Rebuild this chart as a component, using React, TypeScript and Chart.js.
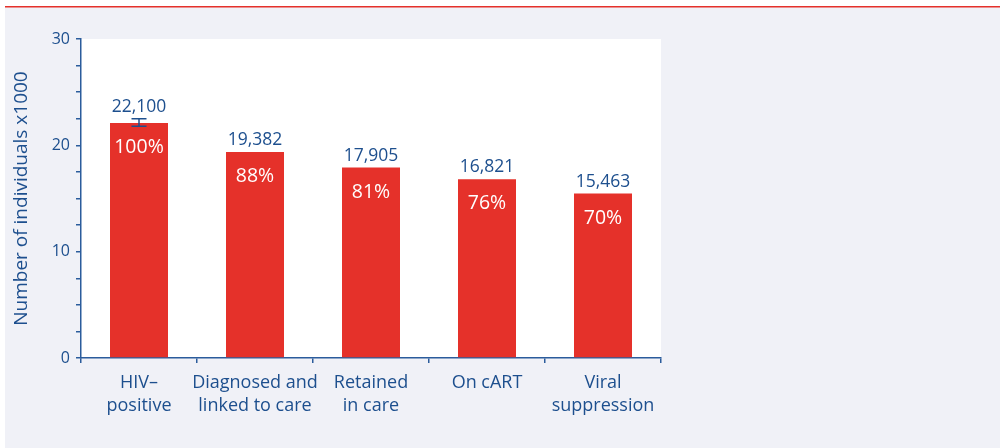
import React, { useEffect, useRef } from "react";
import { Chart, registerables } from "chart.js";

Chart.register(...registerables);

const categories: string[][] = [
  ["HIV–", "positive"],
  ["Diagnosed and", "linked to care"],
  ["Retained", "in care"],
  ["On cART"],
  ["Viral", "suppression"],
];
const values = [22.1, 19.382, 17.905, 16.821, 15.463];
const valueLabels = ["22,100", "19,382", "17,905", "16,821", "15,463"];
const percentLabels = ["100%", "88%", "81%", "76%", "70%"];
const errorLow: (number | null)[] = [21.8, null, null, null, null];
const errorHigh: (number | null)[] = [22.5, null, null, null, null];
const yLabelTicks = [0, 10, 20, 30];

const BLUE = "#1d4f8e";
const AXIS = "#2b5c9c";
const RED = "#e5312a";
const BG = "#f0f1f7";
const FONT = "'Open Sans', sans-serif";

const decorPlugin = {
  id: "decor",
  beforeDraw(chart: any) {
    const { ctx, width, height, chartArea } = chart;
    ctx.save();
    ctx.fillStyle = "#ffffff";
    ctx.fillRect(0, 0, width, height);
    ctx.fillStyle = BG;
    ctx.fillRect(5, 7, width - 5, height - 7);
    ctx.fillStyle = RED;
    ctx.fillRect(5, 6, width - 5, 1.5);
    ctx.fillStyle = "#ffffff";
    ctx.fillRect(chartArea.left, chartArea.top, chartArea.right - chartArea.left, chartArea.bottom - chartArea.top);
    ctx.restore();
  },
  afterDatasetsDraw(chart: any) {
    const { ctx } = chart;
    const meta = chart.getDatasetMeta(0);
    const y = chart.scales.y;
    ctx.save();
    meta.data.forEach((bar: any, i: number) => {
      const x = bar.x;
      let labelTop = bar.y;
      const lo = errorLow[i];
      const hi = errorHigh[i];
      if (lo != null && hi != null) {
        const yl = y.getPixelForValue(lo);
        const yh = y.getPixelForValue(hi);
        ctx.strokeStyle = BLUE;
        ctx.lineWidth = 1.5;
        ctx.beginPath();
        ctx.moveTo(x, yl);
        ctx.lineTo(x, yh);
        ctx.moveTo(x - 7.5, yl);
        ctx.lineTo(x + 7.5, yl);
        ctx.moveTo(x - 7.5, yh);
        ctx.lineTo(x + 7.5, yh);
        ctx.stroke();
        labelTop = Math.min(labelTop, yh);
      }
      ctx.textAlign = "center";
      ctx.textBaseline = "alphabetic";
      ctx.fillStyle = BLUE;
      ctx.font = `17.5px ${FONT}`;
      ctx.fillText(valueLabels[i], x, labelTop - 7);
      ctx.fillStyle = "#ffffff";
      ctx.font = `19.5px ${FONT}`;
      ctx.fillText(percentLabels[i], x, bar.y + 30);
    });
    ctx.restore();
  },
};

export default function App() {
  const ref = useRef<HTMLCanvasElement>(null);
  useEffect(() => {
    if (!ref.current) return;
    const chart = new Chart(ref.current, {
      type: "bar",
      data: {
        labels: categories,
        datasets: [
          {
            data: values,
            backgroundColor: RED,
            borderWidth: 0,
            barPercentage: 0.5,
            categoryPercentage: 1,
          },
        ],
      },
      options: {
        animation: false,
        responsive: true,
        maintainAspectRatio: false,
        layout: { padding: { left: 0, top: 39, right: 339, bottom: 0 } },
        plugins: {
          legend: { display: false },
          tooltip: { enabled: false },
        },
        scales: {
          x: {
            afterFit: (s: any) => {
              s.height = 90;
            },
            grid: {
              display: true,
              drawOnChartArea: false,
              drawTicks: true,
              tickLength: 5,
              color: AXIS,
              lineWidth: 1.5,
              offset: true,
            },
            border: { display: true, color: AXIS, width: 1.5 },
            ticks: {
              color: BLUE,
              font: { family: FONT, size: 18, lineHeight: 1.28 },
              padding: 8,
              maxRotation: 0,
              autoSkip: false,
            },
          },
          y: {
            min: 0,
            max: 30,
            afterFit: (s: any) => {
              s.width = 81;
            },
            afterBuildTicks: (s: any) => {
              const t = [];
              for (let v = 0; v <= 30; v += 2.5) t.push({ value: v });
              s.ticks = t;
            },
            grid: {
              display: true,
              drawOnChartArea: false,
              drawTicks: true,
              tickLength: 5,
              color: AXIS,
              lineWidth: 1.5,
            },
            border: { display: true, color: AXIS, width: 1.5 },
            ticks: {
              color: BLUE,
              font: { family: FONT, size: 16 },
              padding: 6,
              autoSkip: false,
              callback: (v: any) => (yLabelTicks.includes(Number(v)) ? String(v) : ""),
            },
            title: {
              display: true,
              text: "Number of individuals x1000",
              color: BLUE,
              font: { family: FONT, size: 19, lineHeight: 1.2 },
              padding: { top: 10, bottom: 0 },
            },
          },
        },
      },
      plugins: [decorPlugin],
    });
    return () => chart.destroy();
  }, []);
  return (
    <div style={{ position: "fixed", left: 0, top: 0, width: 1000, height: 448 }}>
      <canvas ref={ref} />
    </div>
  );
}
